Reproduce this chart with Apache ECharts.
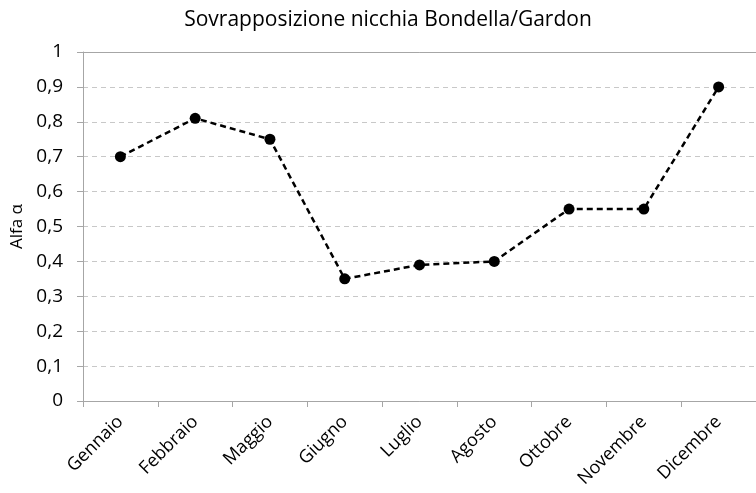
<!DOCTYPE html>
<html>
<head>
<meta charset="utf-8">
<script src="https://cdn.jsdelivr.net/npm/echarts@6/dist/echarts.min.js"></script>
<style>
  html, body { margin: 0; padding: 0; background: #fff; }
  #chart { width: 756px; height: 493px; }
</style>
</head>
<body>
<div id="chart"></div>
<script>
var mesi = ['Gennaio', 'Febbraio', 'Maggio', 'Giugno', 'Luglio', 'Agosto', 'Ottobre', 'Novembre', 'Dicembre'];
var alfa = [0.70, 0.81, 0.75, 0.35, 0.39, 0.40, 0.55, 0.55, 0.90];

var font = '"Open Sans", "DejaVu Sans", sans-serif';
var myChart = echarts.init(document.getElementById('chart'));

var option = {
  animation: false,
  title: {
    text: 'Sovrapposizione nicchia Bondella/Gardon',
    left: 383,
    textAlign: 'center',
    top: 5,
    textStyle: { fontFamily: font, fontSize: 21, fontWeight: 'normal', color: '#000' }
  },
  grid: { left: 83, right: -10, top: 52, bottom: 92 },
  xAxis: {
    type: 'category',
    data: mesi,
    boundaryGap: true,
    axisLine: { lineStyle: { color: '#a6a6a6', width: 1 } },
    axisTick: { show: true, length: 6, lineStyle: { color: '#a6a6a6' } },
    axisLabel: { rotate: 45, margin: 18, fontFamily: font, fontSize: 18, color: '#000' }
  },
  yAxis: {
    type: 'value',
    min: 0,
    max: 1,
    interval: 0.1,
    name: 'Alfa α',
    nameLocation: 'middle',
    nameGap: 56,
    nameTextStyle: { fontFamily: font, fontSize: 17, color: '#000' },
    axisLine: { show: true, lineStyle: { color: '#a6a6a6', width: 1 } },
    axisTick: { show: true, length: 6, lineStyle: { color: '#a6a6a6' } },
    axisLabel: {
      margin: 20,
      fontFamily: font,
      fontSize: 19,
      color: '#000',
      formatter: function (v) {
        if (v === 0 || v === 1) return String(v);
        return v.toFixed(1).replace('.', ',');
      }
    },
    splitLine: { show: true, lineStyle: { color: '#c8c8c8', type: [5, 4], width: 1 } }
  },
  series: [{
    type: 'line',
    data: alfa,
    symbol: 'circle',
    symbolSize: 11,
    itemStyle: { color: '#000' },
    lineStyle: { color: '#000', width: 2.5, type: [6, 4] },
    markLine: {
      silent: true,
      symbol: 'none',
      label: { show: false },
      lineStyle: { color: '#a6a6a6', type: 'solid', width: 1 },
      data: [{ yAxis: 1 }]
    }
  }]
};

myChart.setOption(option);
</script>
</body>
</html>
